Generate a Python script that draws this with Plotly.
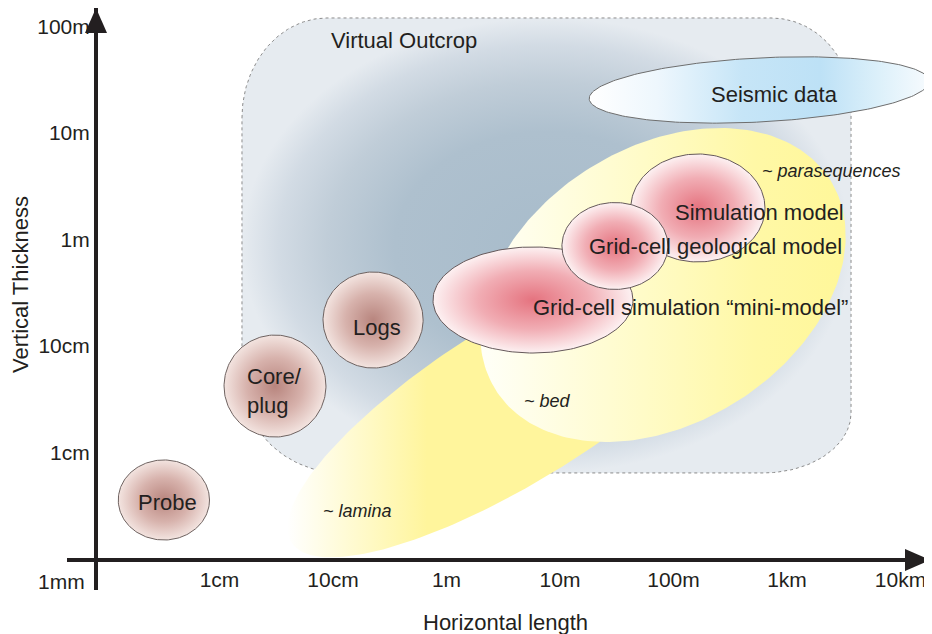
import numpy as np
import plotly.graph_objects as go

# ---------------- data (all positions are log10 of metres) ----------------
x_tick_vals = [0.01, 0.1, 1, 10, 100, 1000, 10000]
x_tick_text = ["1cm", "10cm", "1m", "10m", "100m", "1km", "10km"]
y_tick_vals = [0.01, 0.1, 1, 10, 100]
y_tick_text = ["1cm", "10cm", "1m", "10m", "100m"]

# measurement tools (axis-aligned circles): centre and half-range in decades
tool_names = ["Probe", "Core/<br>plug", "Logs"]
tool_logh = [-2.490, -1.511, -0.647]
tool_logv = [-2.446, -1.376, -0.756]
tool_rh = [0.402, 0.449, 0.441]
tool_rv = [0.376, 0.479, 0.451]

# models (axis-aligned ellipses), drawn in this order
model_names = ["Grid-cell simulation \u201cmini-model\u201d", "Simulation model", "Grid-cell geological model"]
model_logh = [0.762, 2.215, 1.484]
model_logv = [-0.568, 0.296, -0.061]
model_rh = [0.881, 0.591, 0.467]
model_rv = [0.498, 0.507, 0.408]

# tilted envelopes: centre, half-length, half-width (decades), tilt (deg)
seismic = dict(lh=2.755, lv=1.404, a=1.500, b=0.282, tilt=3)
bed_env = dict(lh=1.907, lv=-0.427, a=1.740, b=1.216, tilt=32)
lamina_env = dict(lh=0.648, lv=-1.500, a=2.378, b=0.700, tilt=32)

# virtual outcrop extent and corner radii (TL, TR, BR, BL) in decades
outcrop_h = [-1.802, 3.564]
outcrop_v = [-2.192, 2.080]
outcrop_corners = [(0.749, 0.939), (0.705, 0.798), (0.775, 0.563), (0.881, 0.892)]

# ---------------- layout constants ----------------
# the page body adds an 8px offset, so the figure is 8px smaller than the window
W, H = 924, 626
ML, MR, MT, MB = 59, 2, 0, 44
XR = [-3.3436, 4.2599]
YR = [-3.2911, 2.1737]
PW, PH = W - ML - MR, H - MT - MB
KX = PW / (XR[1] - XR[0])   # px per decade
KY = PH / (YR[1] - YR[0])

INK = "#231f20"
FONT = "Liberation Sans, Arial, Helvetica, sans-serif"


def axis_ellipse(lh, lv, rh, rv, n=181):
    t = np.linspace(0, 2 * np.pi, n)
    return 10 ** (lh + rh * np.cos(t)), 10 ** (lv + rv * np.sin(t))


def tilted_ellipse(lh, lv, a, b, tilt, n=241):
    t = np.linspace(0, 2 * np.pi, n)
    c, s = np.cos(np.radians(tilt)), np.sin(np.radians(tilt))
    u, w = a * np.cos(t), b * np.sin(t)
    dx = u * c - w * s
    dy = (u * s + w * c) * KX / KY
    return 10 ** (lh + dx), 10 ** (lv + dy)


def rounded_box(h, v, corners, n=40):
    (tlh, tlv), (trh, trv), (brh, brv), (blh, blv) = corners
    arcs = [
        (h[0] + tlh, v[1] - tlv, tlh, tlv, 180, 90),
        (h[1] - trh, v[1] - trv, trh, trv, 90, 0),
        (h[1] - brh, v[0] + brv, brh, brv, 0, -90),
        (h[0] + blh, v[0] + blv, blh, blv, -90, -180),
    ]
    xs, ys = [], []
    for cx, cy, rh, rv, a0, a1 in arcs:
        t = np.radians(np.linspace(a0, a1, n))
        xs += list(cx + rh * np.cos(t))
        ys += list(cy + rv * np.sin(t))
    xs.append(xs[0]); ys.append(ys[0])
    return 10 ** np.array(xs), 10 ** np.array(ys)


fig = go.Figure()


def add_fill(x, y, grad_type, cscale, line=None):
    fig.add_trace(go.Scatter(
        x=x, y=y, mode="lines", fill="toself",
        fillgradient=dict(type=grad_type, colorscale=cscale),
        line=line if line else dict(width=0, color="rgba(0,0,0,0)"),
        hoverinfo="skip", showlegend=False,
    ))


# Virtual outcrop
ox, oy = rounded_box(outcrop_h, outcrop_v, outcrop_corners)
add_fill(ox, oy, "radial",
         [[0, "#a8bccb"], [0.5, "#aec0ce"], [0.72, "#c0cdd8"], [0.88, "#d2dbe4"], [1, "#e6ebf0"]],
         dict(color="#8c8c8c", width=1, dash="dot"))

# lamina envelope
lx, ly = tilted_ellipse(**lamina_env)
add_fill(lx, ly, "horizontal", [[0, "#ffffff"], [0.3, "#fff59c"], [1, "#fff59c"]])

# bed / parasequence envelope
bx, by = tilted_ellipse(**bed_env)
add_fill(bx, by, "horizontal", [[0, "#fffff8"], [0.35, "#fffcd2"], [0.75, "#fff8a6"], [1, "#fff799"]])

# seismic
sx, sy = tilted_ellipse(**seismic)
add_fill(sx, sy, "horizontal",
         [[0, "#ffffff"], [0.2, "#eef7fd"], [0.45, "#c6e5f7"], [0.68, "#bde1f6"], [0.85, "#dcf0fa"], [1, "#f7fbfe"]],
         dict(color="#6e6e6e", width=1))

# tools
for i in range(len(tool_names)):
    x, y = axis_ellipse(tool_logh[i], tool_logv[i], tool_rh[i], tool_rv[i])
    add_fill(x, y, "radial", [[0, "#b8857e"], [0.55, "#d7b2ac"], [1, "#f3e4e0"]],
             dict(color="#6e6260", width=1))

# models
for i in range(len(model_names)):
    x, y = axis_ellipse(model_logh[i], model_logv[i], model_rh[i], model_rv[i])
    add_fill(x, y, "radial", [[0, "#e5737f"], [0.55, "#f1adb4"], [1, "#fdf1f2"]],
             dict(color="#65585a", width=1))

# ---------------- labels ----------------
def label(text, lh, lv, size=22, xanchor="center", align="center"):
    fig.add_annotation(x=lh, y=lv, xref="x", yref="y", text=text, showarrow=False,
                       xanchor=xanchor, yanchor="middle", align=align,
                       font=dict(size=size, color=INK, family=FONT))

label("Virtual Outcrop", -0.375, 1.873)
label("Seismic data", 2.894, 1.357)
label("<i>~ parasequences</i>", 3.392, 0.643, size=18)
label(model_names[1], 2.754, 0.258)
label(model_names[2], 2.374, -0.061)
label(model_names[0], 2.154, -0.634)
label("Logs", -0.612, -0.822)
label(tool_names[1], -1.775, -1.427, xanchor="left", align="left")
label("Probe", -2.462, -2.474)
label("<i>~ bed</i>", 0.886, -1.516, size=18)
label("<i>~ lamina</i>", -0.780, -2.549, size=18)

# origin label
fig.add_annotation(x=-3, y=-3, xref="x", yref="y", text="1mm", showarrow=False,
                   xanchor="right", yanchor="middle", xshift=-19, yshift=-22,
                   font=dict(size=21, color=INK, family=FONT))

# axis positions (paper fractions)
y_axis_pos = (88 - ML) / PW
x_axis_pos = (MT + PH - 552) / PH

# axis titles
fig.add_annotation(xref="paper", yref="paper", x=(497 - ML) / PW, y=(MT + PH - 614) / PH,
                   text="Horizontal length", showarrow=False, xanchor="center", yanchor="middle",
                   font=dict(size=22, color=INK, family=FONT))
fig.add_annotation(xref="paper", yref="paper", x=(12 - ML) / PW, y=(MT + PH - 277) / PH,
                   text="Vertical Thickness", textangle=-90, showarrow=False,
                   xanchor="center", yanchor="middle",
                   font=dict(size=22, color=INK, family=FONT))

# arrow heads
fig.add_shape(type="path", xref="paper", yref="paper", xsizemode="pixel", ysizemode="pixel",
              xanchor=y_axis_pos, yanchor=1, path="M -11 -25 L 11 -25 L 0 0 Z",
              fillcolor=INK, line=dict(width=0))
fig.add_shape(type="path", xref="paper", yref="paper", xsizemode="pixel", ysizemode="pixel",
              xanchor=1, yanchor=x_axis_pos, path="M -25 11 L -25 -11 L 0 0 Z",
              fillcolor=INK, line=dict(width=0))

fig.update_layout(
    width=W, height=H,
    margin=dict(l=ML, r=MR, t=MT, b=MB, autoexpand=False),
    paper_bgcolor="white", plot_bgcolor="rgba(0,0,0,0)",
    showlegend=False, hovermode=False,
    font=dict(family=FONT, size=21, color=INK),
    xaxis=dict(type="log", range=XR, anchor="free", position=x_axis_pos,
               showline=True, linewidth=4, linecolor=INK, showgrid=False, zeroline=False,
               ticks="", tickvals=x_tick_vals, ticktext=x_tick_text,
               tickfont=dict(size=21, color=INK, family=FONT),
               fixedrange=True, automargin=False),
    yaxis=dict(type="log", range=YR, anchor="free", position=y_axis_pos,
               showline=True, linewidth=4, linecolor=INK, showgrid=False, zeroline=False,
               ticks="", tickvals=y_tick_vals, ticktext=y_tick_text,
               tickfont=dict(size=21, color=INK, family=FONT),
               fixedrange=True, automargin=False),
)

fig.write_html("out.html")
